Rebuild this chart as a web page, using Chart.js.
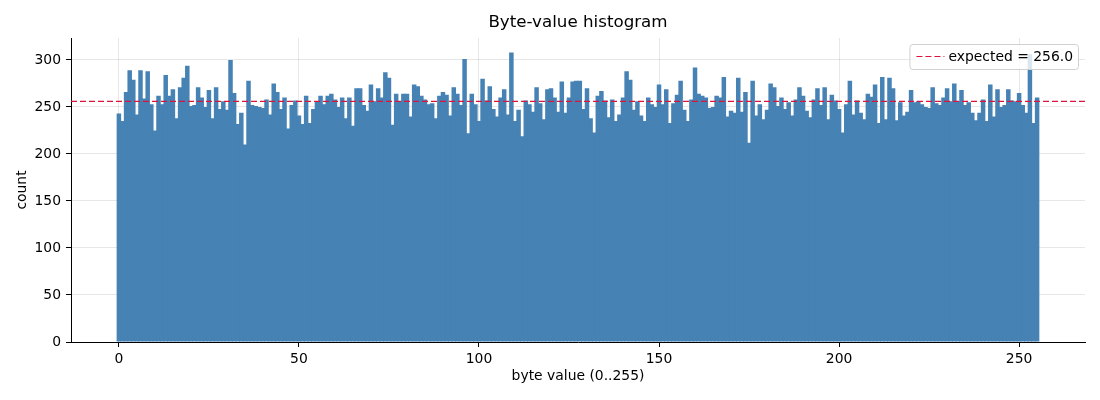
<!DOCTYPE html>
<html>
<head>
<meta charset="utf-8">
<title>Byte-value histogram</title>
<script src="https://cdn.jsdelivr.net/npm/chart.js@4.4.1/dist/chart.umd.min.js"></script>
<style>
  html, body { margin: 0; padding: 0; background: #fff; }
  canvas { display: block; }
</style>
</head>
<body>
<canvas id="histogram" width="1100" height="400"></canvas>
<script>
// byte values 0..255 (bin centres)
const byteValues = Array.from({ length: 256 }, (_, i) => i);

// counts, 22 or so per row
const counts = [
  243, 235, 266, 289, 279, 242, 289, 259, 288, 253, 225, 262, 253, 284, 262, 269, 238, 271, 281, 294, 251, 252,
  271, 260, 250, 268, 238, 271, 248, 256, 247, 300, 265, 232, 244, 210, 278, 252, 251, 250, 249, 258,
  242, 275, 266, 248, 260, 227, 252, 257, 241, 232, 262, 233, 248, 256, 262, 253, 262, 264, 258, 250, 260, 238,
  260, 230, 270, 270, 252, 246, 274, 256, 270, 260, 287, 281, 231, 264, 256, 264, 264, 240, 274, 272, 262, 258,
  253, 254, 238, 262, 266, 263, 241, 271, 264, 252, 301, 222, 264, 253, 235, 280, 257, 272, 248, 240, 260,
  269, 242, 308, 235, 247, 219, 257, 253, 245, 271, 254, 237, 269, 270, 260, 245, 277, 244, 260, 277, 278, 278,
  248, 270, 238, 223, 262, 267, 257, 239, 258, 235, 242, 260, 288, 279, 247, 256, 241, 235, 260, 253, 250,
  274, 253, 269, 233, 254, 263, 278, 247, 235, 258, 292, 264, 262, 260, 249, 250, 262, 260, 282, 240, 246,
  244, 281, 245, 266, 212, 278, 241, 253, 237, 247, 275, 271, 251, 260, 248, 255, 241, 258, 271, 262, 246, 239,
  258, 270, 252, 271, 237, 263, 257, 248, 223, 253, 278, 242, 257, 244, 237, 264, 261, 274, 233, 282, 237,
  281, 270, 236, 255, 241, 245, 268, 255, 256, 253, 250, 249, 271, 254, 252, 260, 270, 256, 275, 256, 268,
  252, 255, 244, 236, 244, 258, 235, 274, 240, 269, 250, 252, 269, 257, 256, 265, 252, 244, 306, 233, 260
];

const expected = 256;
const xTicks = [0, 50, 100, 150, 200, 250];
const yTicks = [0, 50, 100, 150, 200, 250, 300];

const X_MIN = -13.3, X_MAX = 268.3, Y_MAX = 323.4;
const FONT = '"DejaVu Sans", "Liberation Sans", sans-serif';

// title + boxed legend (matplotlib style)
const titleAndLegend = {
  id: 'titleAndLegend',
  afterDraw(chart) {
    const ctx = chart.ctx;
    const area = chart.chartArea;
    ctx.save();
    ctx.fillStyle = '#000';
    ctx.font = '16.7px ' + FONT;
    ctx.textAlign = 'center';
    ctx.textBaseline = 'middle';
    ctx.fillText('Byte-value histogram', (area.left + area.right) / 2, 23);

    const ds = chart.data.datasets[1];
    ctx.font = '13.9px ' + FONT;
    const tw = ctx.measureText(ds.label).width;
    const bw = tw + 44, bh = 25;
    const bx = area.right - 7 - bw, by = area.top + 6;
    ctx.beginPath();
    ctx.roundRect(bx + 0.5, by + 0.5, bw, bh, 3);
    ctx.fillStyle = 'rgba(255,255,255,0.8)';
    ctx.fill();
    ctx.strokeStyle = '#d0d0d0';
    ctx.lineWidth = 1;
    ctx.stroke();

    ctx.beginPath();
    ctx.setLineDash(ds.borderDash);
    ctx.strokeStyle = ds.borderColor;
    ctx.lineWidth = 1.2;
    ctx.moveTo(bx + 7, by + bh / 2);
    ctx.lineTo(bx + 35, by + bh / 2);
    ctx.stroke();
    ctx.setLineDash([]);

    ctx.fillStyle = '#000';
    ctx.textAlign = 'left';
    ctx.fillText(ds.label, bx + 39, by + bh / 2 + 0.5);
    ctx.restore();
  }
};

const ctx = document.getElementById('histogram').getContext('2d');
new Chart(ctx, {
  type: 'bar',
  data: {
    datasets: [
      {
        label: 'count',
        data: byteValues.map((b, i) => ({ x: b, y: counts[i] })),
        backgroundColor: 'steelblue',
        borderWidth: 0,
        barPercentage: 1.25, // slight overlap hides antialias seams
        categoryPercentage: 1,
        order: 2,
      },
      {
        type: 'line',
        label: 'expected = ' + expected.toFixed(1),
        data: [{ x: X_MIN, y: expected }, { x: X_MAX, y: expected }],
        borderColor: '#dc143c',
        borderWidth: 1.4,
        borderDash: [6, 3],
        pointRadius: 0,
        fill: false,
        order: 1,
      },
    ],
  },
  options: {
    responsive: false,
    animation: false,
    devicePixelRatio: 1,
    layout: { padding: { top: 38, right: 15, left: 0, bottom: 0 } },
    plugins: {
      legend: { display: false },
      title: { display: false },
      tooltip: { enabled: false },
    },
    scales: {
      x: {
        type: 'linear',
        min: X_MIN,
        max: X_MAX,
        offset: false,
        z: 1,
        afterBuildTicks: (scale) => { scale.ticks = xTicks.map(v => ({ value: v })); },
        afterFit: (scale) => { scale.height = 58; },
        ticks: { color: '#000', padding: 4, font: { family: FONT, size: 13.9 } },
        grid: {
          offset: false,
          color: 'rgba(176,176,176,0.3)',
          tickColor: '#000',
          tickLength: 5,
          tickWidth: 1,
        },
        border: { display: true, color: '#000', width: 1 },
        title: {
          display: true,
          text: 'byte value (0..255)',
          color: '#000',
          font: { family: FONT, size: 13.9, lineHeight: 1.2 },
          padding: { top: 0, bottom: 15 },
        },
      },
      y: {
        min: 0,
        max: Y_MAX,
        z: 1,
        afterBuildTicks: (scale) => { scale.ticks = yTicks.map(v => ({ value: v })); },
        afterFit: (scale) => { scale.width = 71; },
        ticks: { color: '#000', padding: 5, font: { family: FONT, size: 13.9 } },
        grid: {
          color: 'rgba(176,176,176,0.3)',
          tickColor: '#000',
          tickLength: 5,
          tickWidth: 1,
        },
        border: { display: true, color: '#000', width: 1 },
        title: {
          display: true,
          text: 'count',
          color: '#000',
          font: { family: FONT, size: 13.9, lineHeight: 1.2 },
          padding: { top: 14, bottom: 0 },
        },
      },
    },
  },
  plugins: [titleAndLegend],
});
</script>
</body>
</html>
